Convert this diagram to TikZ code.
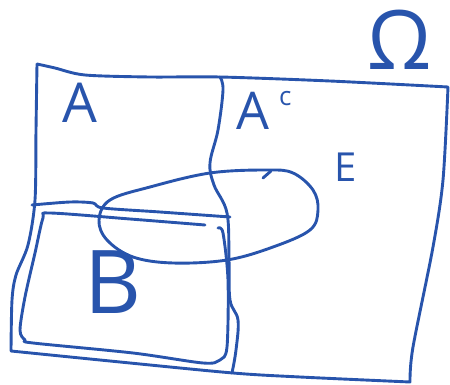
\documentclass[tikz,border=0pt]{standalone}
\usepackage{fontspec}
\setmainfont{Open Sans}
\definecolor{pen}{RGB}{40,84,172}
\begin{document}
\begin{tikzpicture}[x=1pt,y=-1pt,
  stroke/.style={draw=pen,line width=2.9pt,line cap=round,line join=round},
  lbl/.style={text=pen,inner sep=0pt,anchor=base}]
\useasboundingbox (0,0) rectangle (450,385);
% outer box (Omega)
\path[stroke] plot[smooth,tension=0.5] coordinates {(37,64) (55,68) (85,75) (150,77) (220,77) (330,81) (448,87)}
  -- plot[smooth,tension=0.5] coordinates {(448,87) (443,180) (433,247) (413,347) (410,380)}
  -- plot[smooth,tension=0.5] coordinates {(410,382) (300,377) (233,373) (120,362) (11,351)}
  -- plot[smooth,tension=0.5] coordinates {(11,351) (12,300) (16,275) (28,245) (35,200) (36,130) (37,64)};
% divider A | A^c
\path[stroke] plot[smooth,tension=0.6] coordinates {(220,77) (223,90) (218,130) (210,163) (214,185) (227,213) (229,260) (230,300) (238,320) (236,350) (232,373)};
% horizontal line
\path[stroke] plot[smooth,tension=0.5] coordinates {(32,205) (70,202) (93,203) (103,208) (160,212) (230,217)};
% inner box
\path[stroke] plot[smooth,tension=0.5] coordinates {(205,225) (130,219) (50,213) (43,218) (35,253) (25,297) (20,330) (25,340) (33,343) (133,353) (203,363) (220,360) (227,347) (228,280) (223,233) (218,228)};
% ellipse E
\path[stroke] plot[smooth cycle,tension=0.6] coordinates {(99,220) (110,200) (150,187) (210,173) (267,170) (293,173) (313,190) (318,210) (310,230) (273,247) (227,260) (173,263) (133,257) (107,240)};
\path[stroke] (263,178) -- (271,171);
% labels
\node[lbl,font=\fontsize{55}{60}\selectfont] (A) at (80,123) {A};
\node[lbl,anchor=base west,font=\fontsize{52}{60}\selectfont] (Ac) at (236,130) {A\hspace{10pt}\raisebox{24pt}{\fontsize{26}{26}\selectfont c}};
\node[lbl,font=\fontsize{40}{44}\selectfont] (E) at (346,182) {E};
\node[lbl,font=\fontsize{88}{92}\selectfont] (B) at (113,313) {B};
\node[lbl,font=\fontsize{82}{86}\selectfont] (Om) at (400,70) {Ω};
\end{tikzpicture}
\end{document}
